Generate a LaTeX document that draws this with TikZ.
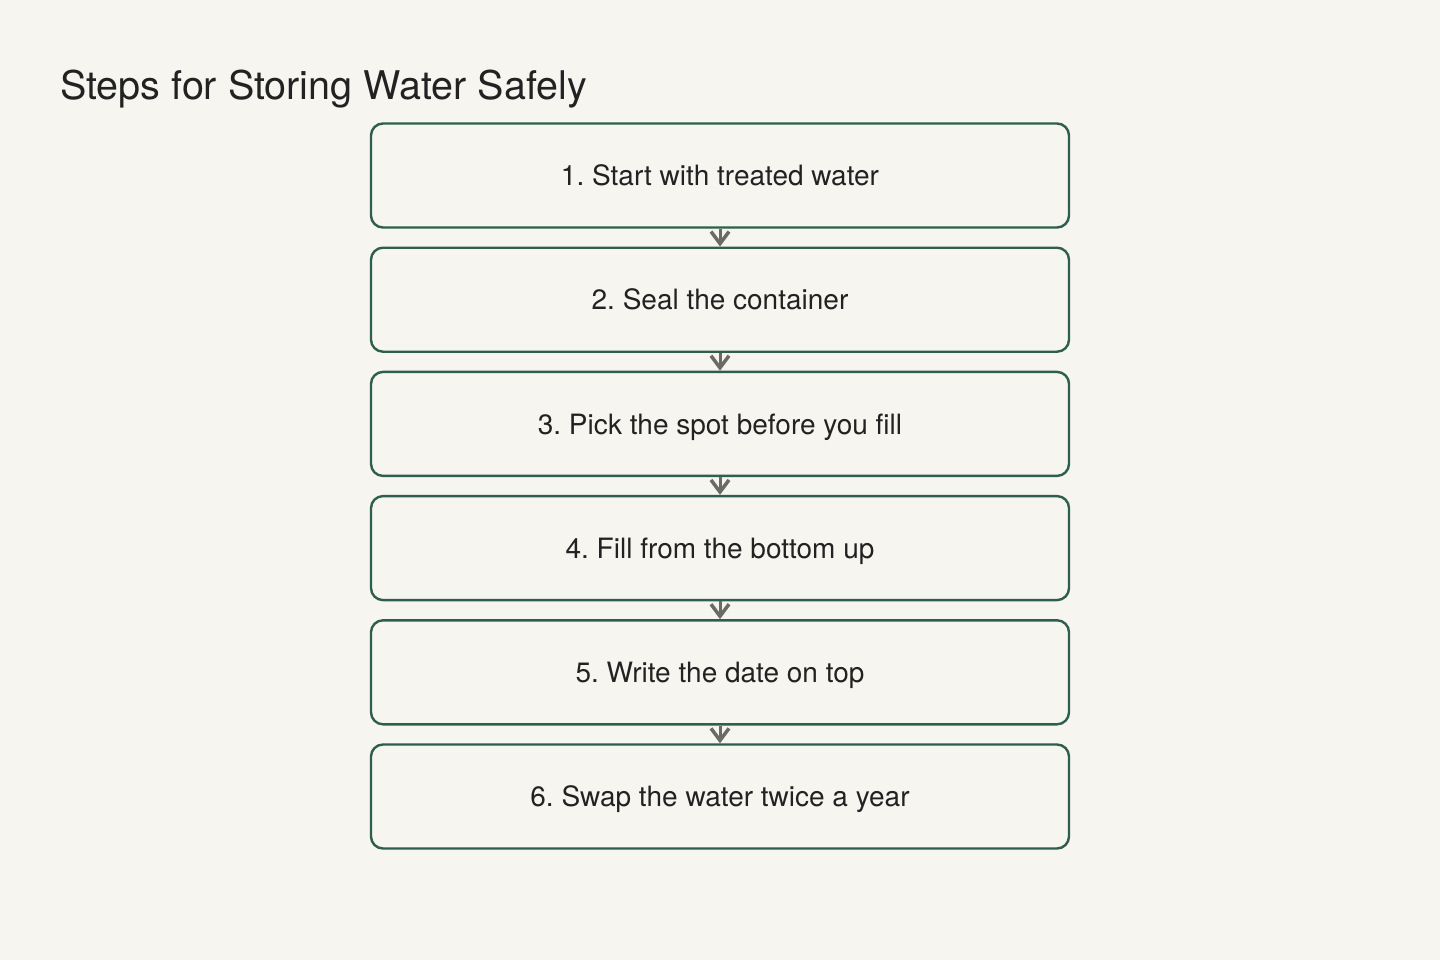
\documentclass[tikz,border=0pt]{standalone}
\usepackage{fontspec}
\setmainfont{TeX Gyre Heros}
\usetikzlibrary{positioning,arrows.meta}
\definecolor{paper}{HTML}{F6F5F0}
\definecolor{boxgreen}{HTML}{2E5E4E}
\definecolor{arrowgrey}{HTML}{6A6A66}
\definecolor{ink}{HTML}{222222}
\frenchspacing
\begin{document}
\begin{tikzpicture}[x=1pt,y=-1pt,
    stepbox/.style={draw=boxgreen,line width=2.4pt,rounded corners=12pt,fill=paper,
      minimum width=698pt,minimum height=104pt,inner sep=0pt,text=ink,
      text height=20.2pt,text depth=0pt,font=\fontsize{28}{32}\selectfont},
    flow/.style={draw=arrowgrey,line width=3pt,-{Straight Barb[length=12pt,width=18pt,line width=3.5pt]}},
    node distance=17.8pt]
    \fill[paper] (0,0) rectangle (1440,960);
    \useasboundingbox (0,0) rectangle (1440,960);
    \node[anchor=base west,inner sep=0pt,text=ink,font=\fontsize{39.5}{46}\selectfont] (title) at (60,100) {Steps for Storing Water Safely};
    \node[stepbox] (s1) at (720,175.5) {1. Start with treated water};
    \node[stepbox,below=of s1] (s2) {2. Seal the container};
    \node[stepbox,below=of s2] (s3) {3. Pick the spot before you fill};
    \node[stepbox,below=of s3] (s4) {4. Fill from the bottom up};
    \node[stepbox,below=of s4] (s5) {5. Write the date on top};
    \node[stepbox,below=of s5] (s6) {6. Swap the water twice a year};
    \foreach \a/\b in {s1/s2,s2/s3,s3/s4,s4/s5,s5/s6}
        \draw[flow] (\a.south) -- (\b.north);
\end{tikzpicture}
\end{document}
